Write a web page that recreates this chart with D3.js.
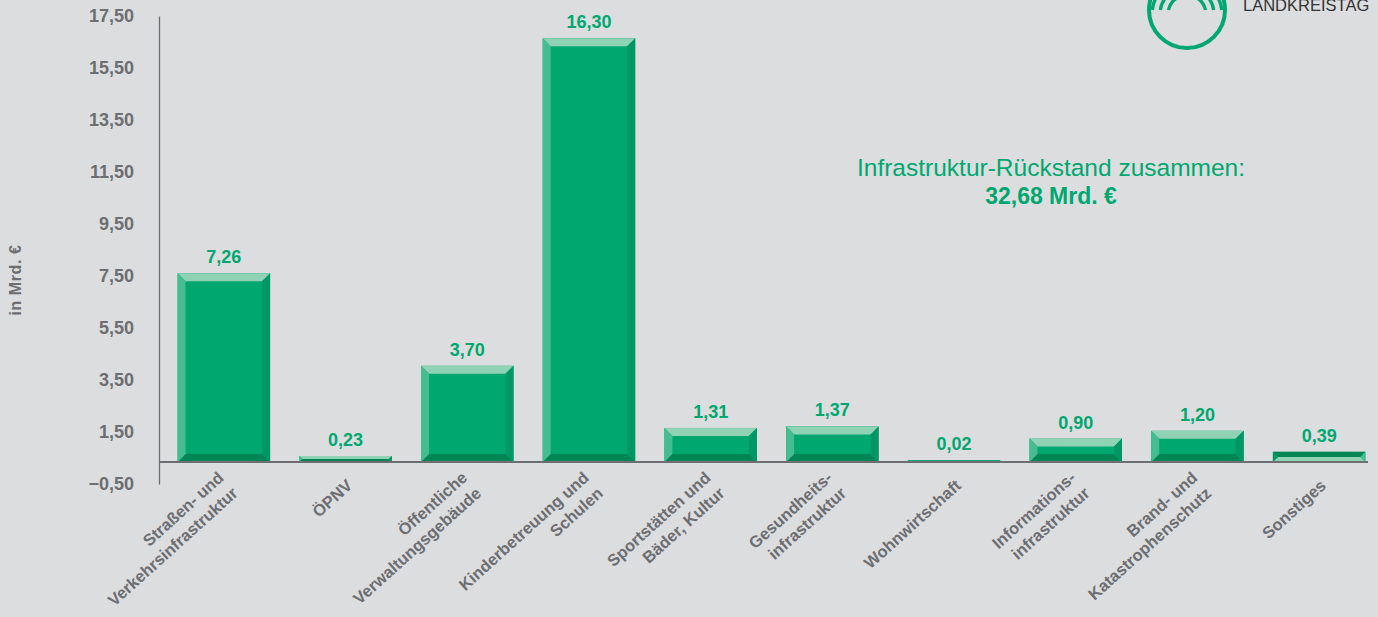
<!DOCTYPE html>
<html lang="de">
  <head>
    <meta charset="UTF-8" />
    <title>Infrastruktur-Rückstand</title>
    <script src="https://d3js.org/d3.v7.min.js"></script>
    <style>
      body {
        margin: 0;
        padding: 0;
        background: #dcdddf;
        overflow: hidden;
      }
      svg {
        display: block;
        font-family: "Liberation Sans", Arial, Helvetica, sans-serif;
      }
      .tick text {
        font-size: 18px;
        font-weight: bold;
        fill: #6d6e71;
      }
      .xlabel {
        font-size: 16.5px;
        font-weight: bold;
        fill: #6d6e71;
      }
      .value {
        font-size: 18px;
        font-weight: bold;
        fill: #00a870;
      }
    </style>
  </head>
  <body>
    <svg id="chart" width="1378" height="617"></svg>

    <script>
      // data
      var categories = [
        "Straßen- und|Verkehrsinfrastruktur",
        "ÖPNV",
        "Öffentliche|Verwaltungsgebäude",
        "Kinderbetreuung und|Schulen",
        "Sportstätten und|Bäder, Kultur",
        "Gesundheits-|infrastruktur",
        "Wohnwirtschaft",
        "Informations-|infrastruktur",
        "Brand- und|Katastrophenschutz",
        "Sonstiges",
      ];
      var values = [7.26, 0.23, 3.7, 16.3, 1.31, 1.37, 0.02, 0.9, 1.2, 0.39];
      var yTicks = [-0.5, 1.5, 3.5, 5.5, 7.5, 9.5, 11.5, 13.5, 15.5, 17.5];
      // the last bar is drawn with its bevel flipped, as in the original
      var flipped = ["Sonstiges"];

      var svg = d3.select("#chart");

      var x = d3
        .scaleBand()
        .domain(categories)
        .range([163, 1380])
        .paddingInner(0.24)
        .paddingOuter(0.12);

      var y = d3.scaleLinear().domain([-0.5, 17.5]).range([475, 7]);

      var fmt = function (v) {
        return d3.format(".2f")(v).replace(".", ",");
      };

      // y axis (labels sit a little below their grid value, as in the source)
      var yAxis = d3
        .axisLeft(y)
        .tickValues(yTicks)
        .tickSize(0)
        .tickPadding(25)
        .tickFormat(fmt);

      var gy = svg
        .append("g")
        .attr("transform", "translate(159,9)")
        .call(yAxis);
      gy.select(".domain").attr("stroke", "#6d6e71").attr("stroke-width", 1.3);
      gy.selectAll(".tick text").attr("font-family", null).attr("font-size", null);

      svg
        .append("text")
        .attr("transform", "translate(21,280) rotate(-90)")
        .attr("text-anchor", "middle")
        .attr("font-size", 16)
        .attr("font-weight", "bold")
        .attr("letter-spacing", 0.6)
        .attr("fill", "#6d6e71")
        .text("in Mrd. €");

      // bars with bevel
      var colors = {
        main: "#00a870",
        top: "#90d2b5",
        left: "#45bc91",
        right: "#009764",
        bottom: "#008655",
      };

      var bars = svg
        .selectAll(".bar")
        .data(categories)
        .enter()
        .append("g")
        .attr("class", "bar");

      bars.each(function (c, i) {
        var g = d3.select(this);
        var x0 = x(c);
        var x1 = x0 + x.bandwidth();
        var y1 = y(0);
        var y0 = Math.min(y(values[i]), y1 - 2);
        var h = y1 - y0;
        var b = Math.min(8, h / 2);
        var flip = flipped.indexOf(c) >= 0;

        g.append("rect")
          .attr("x", x0)
          .attr("y", y0)
          .attr("width", x1 - x0)
          .attr("height", h)
          .attr("fill", colors.main);

        var polys = [
          [
            [x0, y0],
            [x1, y0],
            [x1 - b, y0 + b],
            [x0 + b, y0 + b],
            flip ? colors.bottom : colors.top,
          ],
          [
            [x0, y1],
            [x1, y1],
            [x1 - b, y1 - b],
            [x0 + b, y1 - b],
            flip ? colors.top : colors.bottom,
          ],
          [
            [x0, y0],
            [x0 + b, y0 + b],
            [x0 + b, y1 - b],
            [x0, y1],
            flip ? colors.right : colors.left,
          ],
          [
            [x1, y0],
            [x1 - b, y0 + b],
            [x1 - b, y1 - b],
            [x1, y1],
            flip ? colors.left : colors.right,
          ],
        ];
        if (h > 3) {
          polys.forEach(function (p) {
            g.append("polygon")
              .attr("points", p.slice(0, 4).join(" "))
              .attr("fill", p[4]);
          });
        }

        g.append("text")
          .attr("class", "value")
          .attr("x", (x0 + x1) / 2)
          .attr("y", y0 - 10)
          .attr("text-anchor", "middle")
          .text(fmt(values[i]));
      });

      // x axis line
      svg
        .append("line")
        .attr("x1", 159)
        .attr("x2", 1368)
        .attr("y1", y(0))
        .attr("y2", y(0))
        .attr("stroke", "#6d6e71")
        .attr("stroke-width", 2);

      // rotated category labels
      var lh = 21;
      categories.forEach(function (c) {
        var lines = c.split("|");
        var cx = x(c) + x.bandwidth() / 2;
        var t = svg
          .append("text")
          .attr("class", "xlabel")
          .attr("text-anchor", "end")
          .attr("transform", "translate(" + (cx + 8) + "," + 487 + ") rotate(-42)");
        lines.forEach(function (l, i) {
          t.append("tspan")
            .attr("x", 0)
            .attr("y", (i - (lines.length - 1) / 2) * lh)
            .text(l);
        });
      });

      // total annotation
      svg
        .append("text")
        .attr("x", 1051)
        .attr("y", 176)
        .attr("text-anchor", "middle")
        .attr("font-size", 24.5)
        .attr("fill", "#00a870")
        .text("Infrastruktur-Rückstand zusammen:");
      svg
        .append("text")
        .attr("x", 1051)
        .attr("y", 204)
        .attr("text-anchor", "middle")
        .attr("font-size", 23)
        .attr("font-weight", "bold")
        .attr("fill", "#00a870")
        .text("32,68 Mrd. €");

      // logo (cut off at the top edge)
      var logo = svg.append("g").attr("transform", "translate(1187,10)");
      logo
        .append("circle")
        .attr("r", 38)
        .attr("fill", "none")
        .attr("stroke", "#00a870")
        .attr("stroke-width", 4);
      [19, 27, 35].forEach(function (r) {
        var arc = d3
          .arc()
          .innerRadius(r - 1.7)
          .outerRadius(r + 1.7);
        var a0 = Math.acos(4 / r);
        var a1 = Math.acos(Math.min(1, 16 / r));
        logo
          .append("path")
          .attr("transform", "translate(0,4)")
          .attr("d", arc({ startAngle: -a0, endAngle: -a1 }))
          .attr("fill", "#00a870");
        logo
          .append("path")
          .attr("transform", "translate(0,4)")
          .attr("d", arc({ startAngle: a1, endAngle: a0 }))
          .attr("fill", "#00a870");
      });
      svg
        .append("text")
        .attr("x", 1243)
        .attr("y", 11)
        .attr("font-size", 16.5)
        .attr("fill", "#333333")
        .text("LANDKREISTAG");
    </script>
  </body>
</html>
